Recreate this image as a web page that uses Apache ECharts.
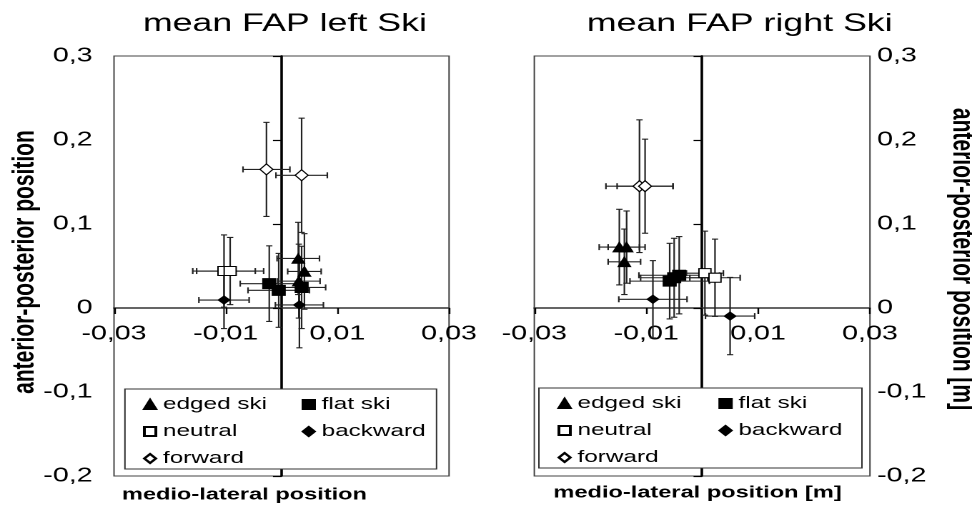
<!DOCTYPE html>
<html>
<head>
<meta charset="utf-8">
<script src="https://cdn.jsdelivr.net/npm/echarts@6.0.0/dist/echarts.min.js"></script>
<style>
html, body { margin: 0; padding: 0; background: #fff; overflow: hidden; }
#wrap { width: 972px; height: 509px; overflow: hidden; }
/* the reference picture is stretched sideways, so the chart is too */
#chart { width: 680px; height: 509px; transform: scaleX(1.4294); transform-origin: 0 0; }
</style>
</head>
<body>
<div id="wrap"><div id="chart"></div></div>
<script>
var categories = ['edged ski', 'flat ski', 'neutral', 'backward', 'forward'];

// rows: [medio-lateral x, anterior-posterior y, x error, y error]
var leftEdged    = [[0.0030, 0.059, 0.0038, 0.043], [0.0041, 0.0435, 0.0030, 0.045], [0.0031, 0.032, 0.0038, 0.044]];
var leftFlat     = [[-0.0022, 0.029, 0.0052, 0.045], [-0.0005, 0.021, 0.0055, 0.044], [0.0036, 0.0245, 0.0043, 0.049]];
var leftNeutral  = [[-0.0103, 0.044, 0.0056, 0.043], [-0.0092, 0.044, 0.0060, 0.040]];
var leftBackward = [[-0.0103, 0.0095, 0.0045, 0.034], [0.0032, 0.0036, 0.0043, 0.051]];
var leftForward  = [[-0.0027, 0.165, 0.0042, 0.056], [0.0036, 0.158, 0.0046, 0.068]];

var rightEdged    = [[-0.0148, 0.0725, 0.0036, 0.045], [-0.0135, 0.0725, 0.0033, 0.043], [-0.0139, 0.055, 0.0029, 0.039]];
var rightFlat     = [[-0.0058, 0.032, 0.0071, 0.045], [-0.0050, 0.036, 0.0060, 0.047], [-0.0041, 0.039, 0.0072, 0.046]];
var rightNeutral  = [[0.0005, 0.0415, 0.0033, 0.050], [0.0023, 0.036, 0.0045, 0.046]];
var rightBackward = [[-0.0088, 0.0104, 0.0061, 0.046], [0.0050, -0.0096, 0.0044, 0.046]];
var rightForward  = [[-0.0112, 0.145, 0.0060, 0.079], [-0.0102, 0.145, 0.0050, 0.056]];

var xMin = -0.03, xMax = 0.03, xStep = 0.02;
var yMin = -0.2, yMax = 0.3, yStep = 0.1;

var FONT = "Arial, 'Liberation Sans', Helvetica, sans-serif";

var gridTop = 56, gridHeight = 420;
// shift the x axis up from the grid bottom to the y = 0 line
var xAxisOffset = -gridHeight * (0 - yMin) / (yMax - yMin);

var marks = {
    'edged ski': {symbol: 'triangle', size: [8.6, 9.5], fill: '#000'},
    'flat ski':  {symbol: 'rect', size: [8.9, 10], fill: '#000'},
    'neutral':   {symbol: 'rect', size: [8.4, 9], fill: '#fff'},
    'backward':  {symbol: 'diamond', size: [8, 8], fill: '#000'},
    'forward':   {symbol: 'diamond', size: [9, 11], fill: '#fff'}
};

function commaLabel(v) {
    return String(Math.round(v * 1000) / 1000).replace('.', ',');
}

function drawErrorBar(params, api) {
    var x = api.value(0), y = api.value(1), ex = api.value(2), ey = api.value(3);
    var l = api.coord([x - ex, y]), r = api.coord([x + ex, y]);
    var t = api.coord([x, y + ey]), b = api.coord([x, y - ey]);
    var st = {stroke: '#222', lineWidth: 1.1};
    var cy = 3, cx = 2.2;
    return {
        type: 'group',
        children: [
            {type: 'line', shape: {x1: l[0], y1: l[1], x2: r[0], y2: r[1]}, style: st},
            {type: 'line', shape: {x1: l[0], y1: l[1] - cy, x2: l[0], y2: l[1] + cy}, style: st},
            {type: 'line', shape: {x1: r[0], y1: r[1] - cy, x2: r[0], y2: r[1] + cy}, style: st},
            {type: 'line', shape: {x1: t[0], y1: t[1], x2: b[0], y2: b[1]}, style: st},
            {type: 'line', shape: {x1: t[0] - cx, y1: t[1], x2: t[0] + cx, y2: t[1]}, style: st},
            {type: 'line', shape: {x1: b[0] - cx, y1: b[1], x2: b[0] + cx, y2: b[1]}, style: st}
        ]
    };
}

function plotSeries(groups, gridIdx) {
    var scat = [], bars = [];
    categories.forEach(function (name, i) {
        var m = marks[name];
        scat.push({
            type: 'scatter', name: name,
            xAxisIndex: gridIdx, yAxisIndex: gridIdx * 2,
            data: groups[i],
            symbol: m.symbol, symbolSize: m.size,
            itemStyle: {color: m.fill, borderColor: '#000', borderWidth: 1, opacity: 1},
            z: 3
        });
        bars.push({
            type: 'custom', name: name,
            xAxisIndex: gridIdx, yAxisIndex: gridIdx * 2,
            data: groups[i],
            encode: {x: 0, y: 1},
            renderItem: drawErrorBar,
            silent: true,
            z: 2
        });
    });
    return scat.concat(bars);
}

function xAxisFor(g) {
    return {
        gridIndex: g, type: 'value', position: 'bottom', offset: xAxisOffset,
        min: xMin, max: xMax, interval: xStep,
        axisLine: {onZero: false, lineStyle: {color: '#333', width: 1.5}},
        axisTick: {show: true, length: 6, lineStyle: {color: '#000', width: 1.2}},
        axisLabel: {formatter: commaLabel, fontSize: 20, color: '#000', fontFamily: FONT, margin: 16,
                    showMinLabel: true, showMaxLabel: true, hideOverlap: false},
        splitLine: {show: false}
    };
}

function yLabelAxis(g, pos, margin) {
    return {
        gridIndex: g, type: 'value', position: pos, min: yMin, max: yMax, interval: yStep,
        axisLine: {show: false, onZero: false},
        axisTick: {show: false},
        axisLabel: {formatter: commaLabel, fontSize: 20, color: '#000', fontFamily: FONT, margin: margin,
                    showMinLabel: true, showMaxLabel: true, hideOverlap: false},
        splitLine: {show: false}
    };
}

function yCenterAxis(g) {
    return {
        gridIndex: g, type: 'value', position: 'left', min: yMin, max: yMax, interval: yStep,
        axisLine: {show: true, onZero: true, lineStyle: {color: '#000', width: 1.8}},
        axisTick: {show: true, length: 6, lineStyle: {color: '#000', width: 1.2}},
        axisLabel: {show: false},
        splitLine: {show: false}
    };
}

function legendCol(names, left, top) {
    return {
        data: names, orient: 'vertical', left: left, top: top, padding: 0,
        itemGap: 10, itemWidth: 8, itemHeight: 9, selectedMode: false, z: 20,
        textStyle: {fontSize: 17, lineHeight: 16, color: '#000', fontFamily: FONT}
    };
}

function label(text, x, y, size, weight, rot) {
    return {
        type: 'text', x: x, y: y, rotation: rot || 0, silent: true, z: 30,
        style: {text: text, fill: '#000', fontSize: size, fontWeight: weight, fontFamily: FONT,
                align: 'center', verticalAlign: 'middle'}
    };
}

var dom = document.getElementById('chart');
var myChart = echarts.init(dom, null, {renderer: 'canvas', devicePixelRatio: 2});

var option = {
    animation: false,
    backgroundColor: '#fff',
    grid: [
        {left: 79.75, top: gridTop, width: 234.4, height: gridHeight, show: true, borderColor: '#444', borderWidth: 1,
         containLabel: false, outerBoundsMode: 'none'},
        {left: 373.8, top: gridTop, width: 234.8, height: gridHeight, show: true, borderColor: '#444', borderWidth: 1,
         containLabel: false, outerBoundsMode: 'none'}
    ],
    xAxis: [xAxisFor(0), xAxisFor(1)],
    yAxis: [yLabelAxis(0, 'left', 15), yCenterAxis(0), yLabelAxis(1, 'right', 5), yCenterAxis(1)],
    legend: [
        legendCol(['edged ski', 'neutral', 'forward'], 100, 396),
        legendCol(['flat ski', 'backward'], 211, 396),
        legendCol(['edged ski', 'neutral', 'forward'], 390, 395),
        legendCol(['flat ski', 'backward'], 502.6, 395)
    ],
    graphic: {
        elements: [
            {type: 'rect', shape: {x: 87.4, y: 389, width: 218, height: 80}, z: 10, silent: true,
             style: {fill: '#fff', stroke: '#333', lineWidth: 1}},
            {type: 'rect', shape: {x: 377, y: 388, width: 226, height: 80}, z: 10, silent: true,
             style: {fill: '#fff', stroke: '#333', lineWidth: 1}},
            label('mean FAP left Ski', 199.3, 24, 25, 'normal'),
            label('mean FAP right Ski', 517.5, 24, 25, 'normal'),
            label('medio-lateral position', 171, 495, 16.5, 'bold'),
            label('medio-lateral position [m]', 488, 493, 16.5, 'bold'),
            label('anterior-posterior position', 17.5, 262, 21, 'bold', Math.PI / 2),
            label('anterior-posterior position [m]', 672.7, 259, 21, 'bold', -Math.PI / 2)
        ]
    },
    series: plotSeries([leftEdged, leftFlat, leftNeutral, leftBackward, leftForward], 0)
        .concat(plotSeries([rightEdged, rightFlat, rightNeutral, rightBackward, rightForward], 1))
};

if (option && typeof option === 'object') {
    myChart.setOption(option, true);
}
</script>
</body>
</html>
